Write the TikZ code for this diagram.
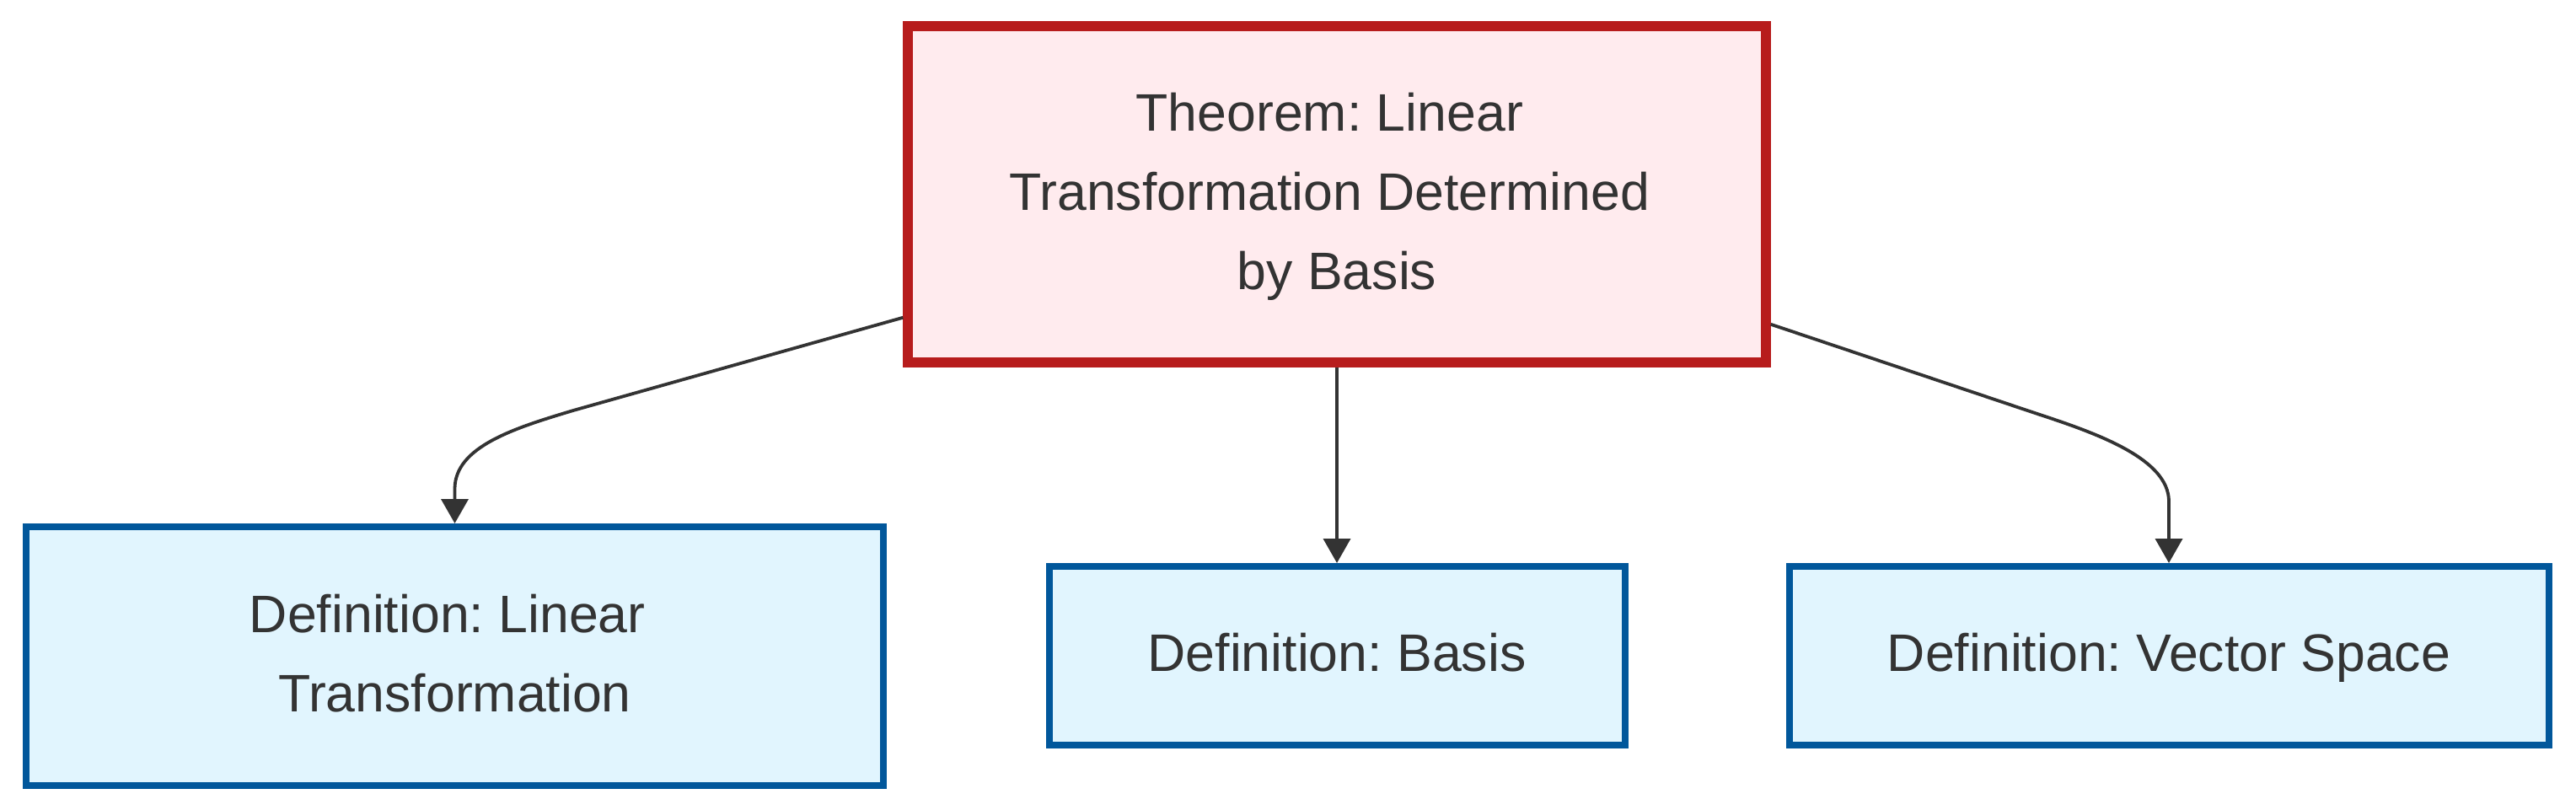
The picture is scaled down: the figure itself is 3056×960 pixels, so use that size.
\documentclass[tikz,border=0pt]{standalone}
\usepackage{fontspec}
\setmainfont{Liberation Sans}
\usetikzlibrary{arrows.meta,calc}
\definecolor{txt}{HTML}{333333}
\definecolor{thmfill}{HTML}{FFEBEE}
\definecolor{thmdraw}{HTML}{B71C1C}
\definecolor{deffill}{HTML}{E1F5FE}
\definecolor{defdraw}{HTML}{01579B}
\definecolor{edgecol}{HTML}{333333}
\frenchspacing
\begin{document}
\begin{tikzpicture}[x=0.5pt,y=-0.5pt,
  box/.style={rectangle, inner sep=0pt, align=center, text=txt,
    font=\fontsize{31.3}{47}\selectfont},
  thm/.style={box, fill=thmfill, draw=thmdraw, line width=5.75pt},
  defn/.style={box, fill=deffill, draw=defdraw, line width=4pt},
  link/.style={draw=edgecol, line width=1.9pt,
    -{Triangle[length=14.5pt,width=16pt]}},
]
\useasboundingbox[fill=white] (0,0) rectangle (3056,960);
\node[thm, minimum width=509pt, minimum height=199.5pt] (thm) at (1586,230.5)
  {\strut Theorem: Linear\mbox{\ }\\\strut Transformation Determined\mbox{\ }\\\strut by Basis};
\node[defn, minimum width=508.5pt, minimum height=153.5pt] (lin) at (539.5,778.5)
  {\strut Definition: Linear\mbox{\ }\\\strut Transformation};
\node[defn, minimum width=341.5pt, minimum height=106pt] (basis) at (1586,778)
  {\strut Definition: Basis};
\node[defn, minimum width=450.5pt, minimum height=106pt] (vs) at (2573,778)
  {\strut Definition: Vector Space};

\draw[link] ($(thm.south west)+(0,-59)$) -- ($(lin.north)+(140.5,-134)$)
  .. controls ($(lin.north)+(70.5,-113)$) and ($(lin.north)+(0,-91)$) .. ($(lin.north)+(0,-41)$)
  -- (lin.north);
\draw[link] (thm.south) -- (basis.north);
\draw[link] ($(thm.south east)+(0,-51)$) -- ($(vs.north)+(-153,-176)$)
  .. controls ($(vs.north)+(-83,-153)$) and ($(vs.north)+(0,-123)$) .. ($(vs.north)+(0,-73)$)
  -- (vs.north);
\end{tikzpicture}
\end{document}
